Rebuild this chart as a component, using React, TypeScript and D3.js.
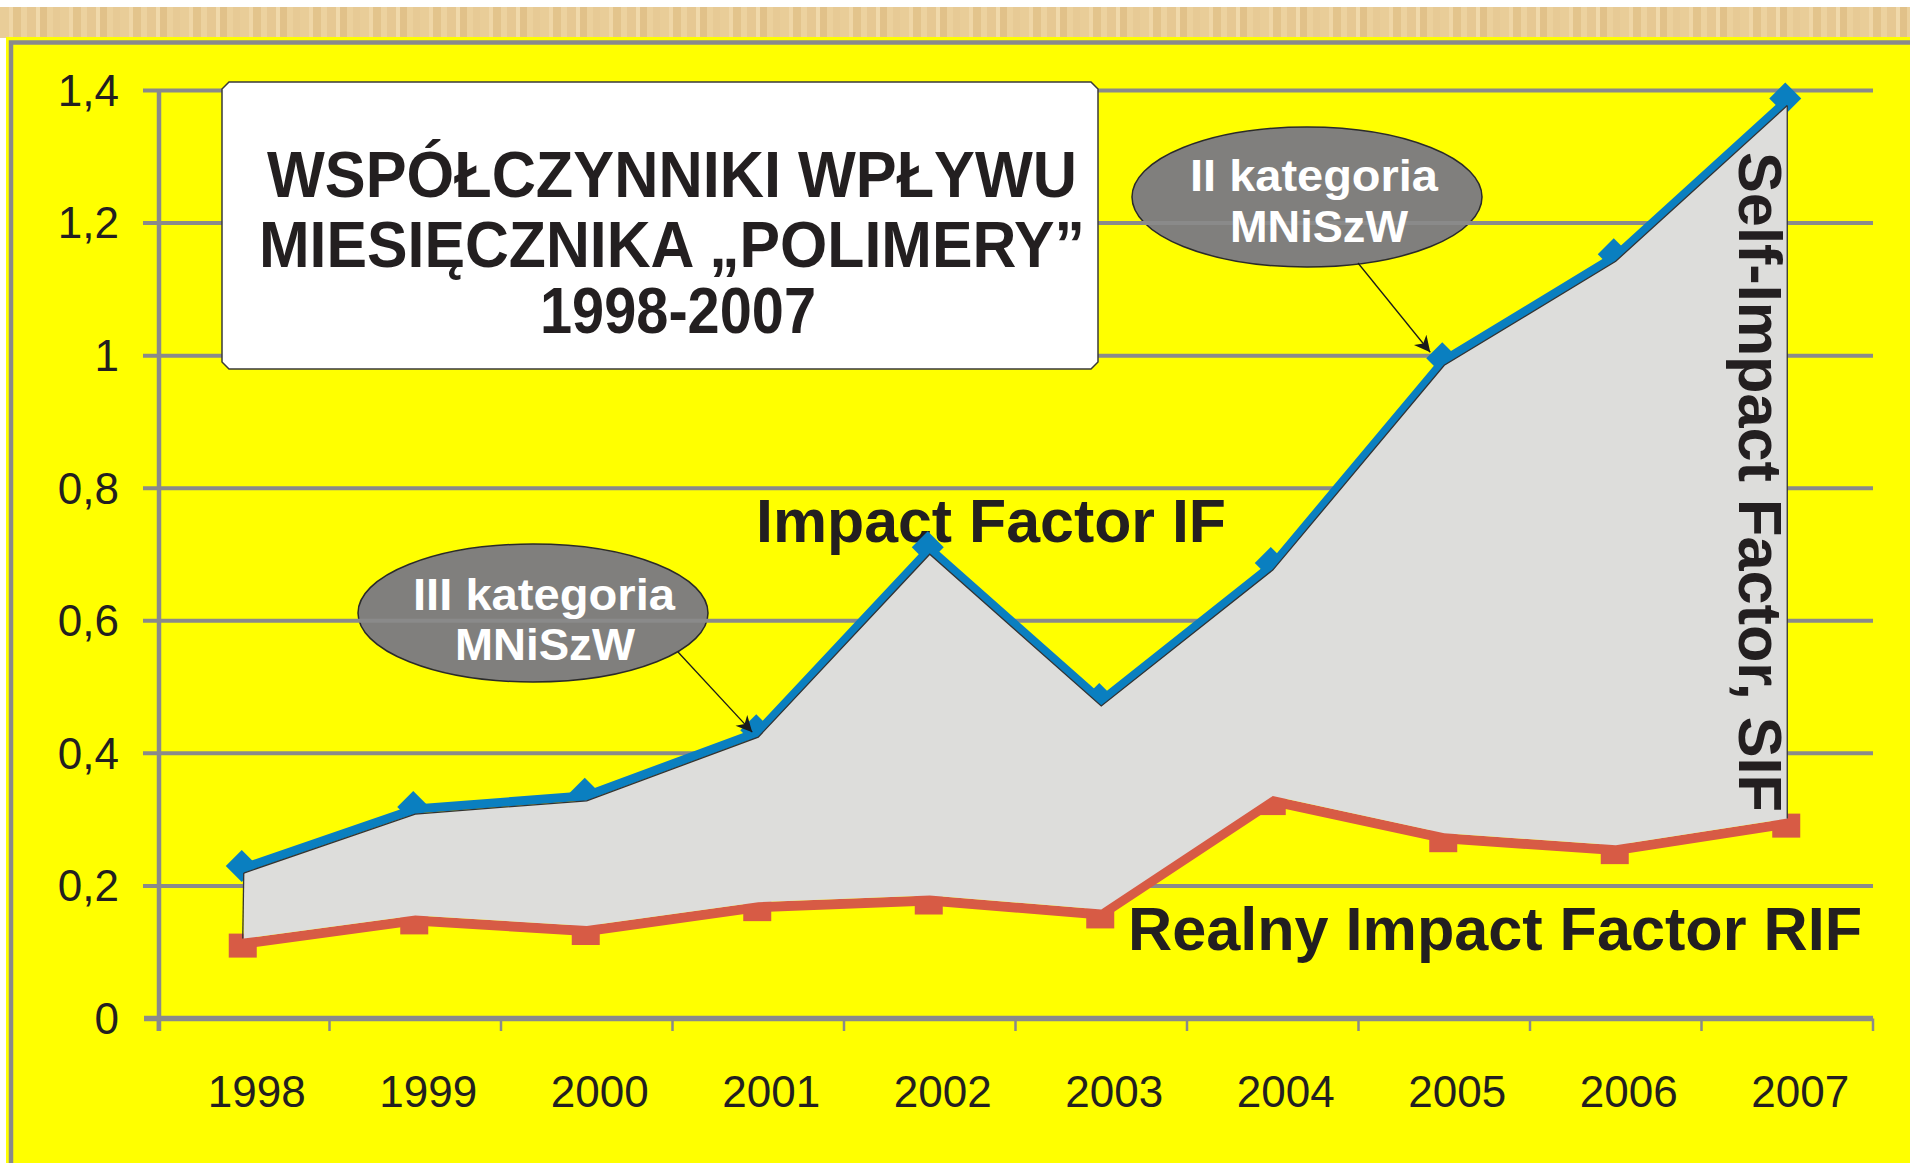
import React from 'react'
import * as d3 from 'd3'

// IF i RIF czasopisma "Polimery"
const years = ['1998', '1999', '2000', '2001', '2002', '2003', '2004', '2005', '2006', '2007']
const impactFactor = [0.227, 0.316, 0.336, 0.432, 0.708, 0.479, 0.684, 0.993, 1.15, 1.385]
const realImpactFactor = [0.113, 0.148, 0.132, 0.168, 0.178, 0.157, 0.328, 0.272, 0.254, 0.294]
const yTicks = [0, 0.2, 0.4, 0.6, 0.8, 1, 1.2, 1.4]
const titleLines = ['WSPÓŁCZYNNIKI WPŁYWU', 'MIESIĘCZNIKA „POLIMERY”', '1998-2007']

const W = 1910
const H = 1163
const FONT = 'Liberation Sans, Arial, sans-serif'
const INK = '#231f20'
const GRID = '#8a8a8a'
const BLUE = '#0a7fc0'
const RED = '#d75b45'
const AREA = '#dddddb'

const plFormat = d3.formatLocale({ decimal: ',', thousands: ' ', grouping: [3], currency: ['', ''] }).format('~g')

const App = () => {
  const x = d3.scaleBand().domain(years).range([158, 1873])
  const y = d3.scaleLinear().domain([0, 1.4]).range([1018.5, 90.5])
  const cx = (yr: string) => (x(yr) as number) + x.bandwidth() / 2

  const rows = years.map((yr, i) => ({ year: yr, sif: impactFactor[i], rif: realImpactFactor[i] }))

  const ifLine = d3.line<any>().x(d => cx(d.year)).y(d => y(d.sif))
  const rifLine = d3.line<any>().x(d => cx(d.year)).y(d => y(d.rif))
  const band = d3.area<any>()
    .x(d => cx(d.year))
    .y0(d => y(d.rif) - 5)
    .y1(d => y(d.sif) + 5)
  const topEdge = d3.line<any>().x(d => cx(d.year)).y(d => y(d.sif) + 5)

  const first = rows[0]
  const last = rows[rows.length - 1]

  // narożniki ramki tytułu ścięte
  const bx0 = 222, bx1 = 1098, by0 = 82, by1 = 369, c = 7
  const boxPath = `M${bx0 + c},${by0}H${bx1 - c}L${bx1},${by0 + c}V${by1 - c}L${bx1 - c},${by1}H${bx0 + c}L${bx0},${by1 - c}V${by0 + c}Z`

  const streaks = [
    [0, 9, '#e9cd98'], [9, 4, '#efd6a6'], [13, 8, '#e3c48c'], [21, 6, '#ecd29f'],
    [27, 9, '#e6c893'], [36, 4, '#f0d9ab'], [40, 7, '#e1c189'], [47, 6, '#ebd09c'],
    [53, 7, '#e7ca95'],
  ]

  const ellipses = [
    { cx: 1307, cy: 197, rx: 175, ry: 70, l1: 'II kategoria', w1: 248, t1x: 1314, l2: 'MNiSzW', w2: 178, t2x: 1319, b1: 191, b2: 242,
      from: [1358, 263], to: [cx('2005') - 14, y(impactFactor[7]) - 8] },
    { cx: 533, cy: 613, rx: 175, ry: 69, l1: 'III kategoria', w1: 262, t1x: 544, l2: 'MNiSzW', w2: 180, t2x: 545, b1: 610, b2: 660,
      from: [678, 652], to: [cx('2001') - 6, y(impactFactor[3])] },
  ]

  return (
    <svg width={W} height={H} style={{ position: 'absolute', left: 0, top: 0 }} fontFamily={FONT}>
      <defs>
        <pattern id="paper" width={60} height={30} patternUnits="userSpaceOnUse">
          {streaks.map(([sx, sw, col], i) => (
            <rect key={i} x={sx as number} y={0} width={sw as number} height={30} fill={col as string} />
          ))}
        </pattern>
        <marker id="head" viewBox="0 0 10 10" refX={10} refY={5} markerWidth={20} markerHeight={16}
          markerUnits="userSpaceOnUse" orient="auto">
          <path d="M0,0L10,5L0,10L3,5Z" fill="#1a1a1a" />
        </marker>
      </defs>

      <rect x={0} y={0} width={W} height={H} fill="#ffffff" />
      <rect x={0} y={7} width={W} height={31} fill="url(#paper)" />
      <rect x={6} y={37} width={W} height={H} fill="#ffff00" />
      <rect x={11} y={42.5} width={W + 20} height={H + 20} fill="#ffff00" stroke={GRID} strokeWidth={4.5} />

      {ellipses.map((e, i) => (
        <ellipse key={i} cx={e.cx} cy={e.cy} rx={e.rx} ry={e.ry} fill="#807f7d" stroke="#2a2a2a" strokeWidth={1.5} />
      ))}

      {/* siatka i osie */}
      {yTicks.filter(t => t > 0).map(t => (
        <line key={t} x1={143} x2={1873} y1={y(t)} y2={y(t)} stroke={GRID} strokeWidth={4} />
      ))}
      <line x1={159} x2={159} y1={y(1.4) - 1} y2={1031} stroke={GRID} strokeWidth={4.5} />
      <line x1={144} x2={1873} y1={y(0)} y2={y(0)} stroke={GRID} strokeWidth={5.5} />
      {[...years.map(yr => x(yr) as number), 1873].map((tx, i) => (
        <line key={i} x1={tx} x2={tx} y1={y(0)} y2={1031} stroke={GRID} strokeWidth={2.5} />
      ))}
      {yTicks.map(t => (
        <text key={t} x={119} y={y(t)} dy="0.35em" textAnchor="end" fontSize={44} fill={INK}>{plFormat(t)}</text>
      ))}
      {years.map(yr => (
        <text key={yr} x={cx(yr) + 13} y={1107} textAnchor="middle" fontSize={44} fill={INK}>{yr}</text>
      ))}

      <text x={756} y={542} fontSize={61} fontWeight="bold" fill={INK} textLength={470} lengthAdjust="spacingAndGlyphs">Impact Factor IF</text>

      {/* serie */}
      <path d={ifLine(rows) as string} fill="none" stroke={BLUE} strokeWidth={9} strokeLinejoin="round" />
      <path d={rifLine(rows) as string} fill="none" stroke={RED} strokeWidth={10} strokeLinejoin="round" />
      {rows.map(d => (
        <path key={'d' + d.year} transform={`translate(${cx(d.year) - 2},${y(d.sif) - 2})`} d="M0,-16L16,0L0,16L-16,0Z" fill={BLUE} />
      ))}
      {rows.map(d => (
        <rect key={'s' + d.year} x={cx(d.year) - 15} y={y(d.rif) - 10} width={28} height={24} fill={RED} />
      ))}
      <path d={band(rows) as string} fill={AREA} />
      <path d={topEdge(rows) as string} fill="none" stroke="#333" strokeWidth={1.3} />
      <line x1={cx(first.year)} x2={cx(first.year) - 1} y1={y(first.sif) + 5} y2={y(first.rif) - 5} stroke="#333" strokeWidth={1.3} />
      <line x1={cx(last.year)} x2={cx(last.year)} y1={y(last.sif) + 5} y2={y(last.rif) - 5} stroke="#333" strokeWidth={1.3} />

      {/* tytuł */}
      <path d={boxPath} fill="#ffffff" stroke="#3a3a3a" strokeWidth={1.5} />
      <text x={672} y={197} textAnchor="middle" fontSize={65} fontWeight="bold" fill={INK} textLength={810} lengthAdjust="spacingAndGlyphs">{titleLines[0]}</text>
      <text x={672} y={267} textAnchor="middle" fontSize={65} fontWeight="bold" fill={INK} textLength={826} lengthAdjust="spacingAndGlyphs">{titleLines[1]}</text>
      <text x={678} y={333} textAnchor="middle" fontSize={65} fontWeight="bold" fill={INK} textLength={276} lengthAdjust="spacingAndGlyphs">{titleLines[2]}</text>

      {/* kategorie MNiSzW */}
      {ellipses.map((e, i) => (
        <g key={i}>
          <text x={e.t1x} y={e.b1} textAnchor="middle" fontSize={45} fontWeight="bold" fill="#ffffff" textLength={e.w1} lengthAdjust="spacingAndGlyphs">{e.l1}</text>
          <text x={e.t2x} y={e.b2} textAnchor="middle" fontSize={44} fontWeight="bold" fill="#ffffff" textLength={e.w2} lengthAdjust="spacingAndGlyphs">{e.l2}</text>
          <line x1={e.from[0]} y1={e.from[1]} x2={e.to[0]} y2={e.to[1]} stroke="#1a1a1a" strokeWidth={1.3} markerEnd="url(#head)" />
        </g>
      ))}

      <text transform="translate(1739,152) rotate(90)" fontSize={62} fontWeight="bold" fill={INK} textLength={660} lengthAdjust="spacingAndGlyphs">Self-Impact Factor, SIF</text>
      <text x={1128} y={950} fontSize={61} fontWeight="bold" fill={INK} textLength={734} lengthAdjust="spacingAndGlyphs">Realny Impact Factor RIF</text>
    </svg>
  )
}

export default App
